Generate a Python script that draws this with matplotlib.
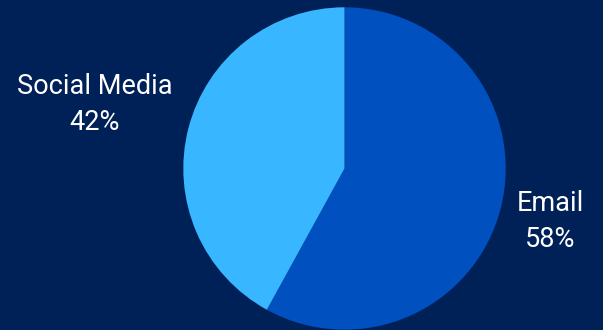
import numpy as np
import matplotlib.pyplot as plt

# share of contacts by channel
channels = ['Email', 'Social Media']
shares = [58, 42]
colours = ['#0050C0', '#38B6FF']

bg = '#002157'

fig = plt.figure(figsize=(6.03, 3.30), dpi=100, facecolor=bg)
ax = fig.add_axes([0, 0, 1, 1])
ax.set_facecolor(bg)

# pie drawn clockwise from 12 o'clock, radius 1 in data units
wedges, _ = ax.pie(shares, colors=colours, startangle=90, counterclock=False,
                   radius=1, wedgeprops=dict(linewidth=0))

# limits chosen so one data unit is the same in x and y on the 603x330 canvas
cx, cy, r = 344.5, 168.5, 161.2
ax.set_xlim(-cx / r, (603 - cx) / r)
ax.set_ylim(-(330 - cy) / r, cy / r)
ax.set_aspect('auto')
ax.axis('off')

# outside labels: name on first line, percentage below
label_pos = {'Email': (1.275, -0.329), 'Social Media': (-1.551, 0.397)}
for name, val in zip(channels, shares):
    x, y = label_pos[name]
    ax.text(x, y, f'{name}\n{val}%', ha='center', va='center',
            multialignment='center', linespacing=1.42,
            fontsize=19.5, family=['Roboto', 'DejaVu Sans'], fontweight='normal',
            color='#FFFFFF')

fig.savefig('out.png', dpi=100, facecolor=bg)
